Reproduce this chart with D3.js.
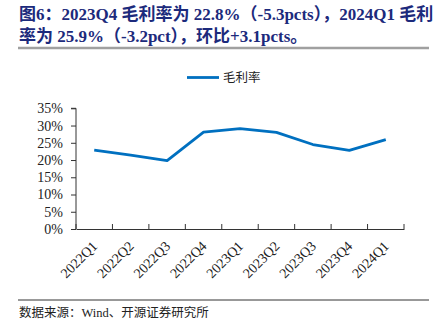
<!DOCTYPE html>
<html><head><meta charset="utf-8">
<script src="https://cdn.jsdelivr.net/npm/d3@7"></script>
<style>body{margin:0;background:#fff}svg{display:block}</style>
</head><body>
<svg id="c" width="444" height="330"></svg>
<script>
const categories = ["2022Q1","2022Q2","2022Q3","2022Q4","2023Q1","2023Q2","2023Q3","2023Q4","2024Q1"];
const grossMargin = [22.9, 21.4, 19.8, 28.1, 29.1, 28.0, 24.5, 22.8, 25.9];
const yTicks = [0,5,10,15,20,25,30,35];
const seriesName = "毛利率";
const titleLines = ["图6：2023Q4 毛利率为 22.8%（-5.3pcts），2024Q1 毛利", "率为 25.9%（-3.2pct），环比+3.1pcts。"];
const sourceText = "数据来源：Wind、开源证券研究所";

const svg = d3.select("#c");
const serif = "'Liberation Serif','Times New Roman','Noto Sans CJK SC',serif";
const cjk = "'Liberation Serif','Noto Sans CJK SC',sans-serif";

// title
svg.selectAll("text.title").data(titleLines).join("text")
  .attr("class","title")
  .attr("x",19).attr("y",(d,i)=>20+i*22)
  .attr("fill","#1c2a7c").attr("font-weight","bold")
  .attr("font-family",cjk).attr("font-size",17)
  .text(d=>d);
svg.append("line").attr("x1",18).attr("x2",429).attr("y1",48).attr("y2",48)
  .attr("stroke","#a0a0a0").attr("stroke-width",2.5);

const x = d3.scaleBand().domain(categories).range([76,404]);
const y = d3.scaleLinear().domain([0,35]).range([229,108.3]);

// y axis
const ya = svg.append("g").attr("transform","translate(76,0)")
  .call(d3.axisLeft(y).tickValues(yTicks).tickFormat(d=>d+"%").tickSize(5).tickPadding(8));
ya.select(".domain").attr("stroke","#333").attr("d","M-5,108.3H0V229");
ya.selectAll(".tick line").attr("stroke","#333");
ya.selectAll("text").attr("font-family",serif).attr("font-size",14).attr("fill","#222");

// x axis
const xa = svg.append("g").attr("transform","translate(0,229)")
  .call(d3.axisBottom(x).tickSize(0).tickSizeOuter(0));
xa.select(".domain").attr("stroke","#333");
xa.selectAll(".tick line").remove();
// ticks at band boundaries
const bounds = categories.map(c=>x(c)).concat([x.range()[1]]);
xa.selectAll("line.bt").data(bounds).join("line").attr("class","bt")
  .attr("x1",d=>d).attr("x2",d=>d).attr("y1",0).attr("y2",-5).attr("stroke","#333");
xa.selectAll(".tick text")
  .attr("font-family",serif).attr("font-size",14).attr("fill","#222")
  .attr("text-anchor","end").attr("dy",0)
  .attr("transform","translate(4,18) rotate(-45)")
  .attr("y",0).attr("x",0);

// line
svg.append("path").datum(grossMargin)
  .attr("fill","none").attr("stroke","#0070C0").attr("stroke-width",2.8)
  .attr("stroke-linejoin","round")
  .attr("d",d3.line().x((d,i)=>x(categories[i])+x.bandwidth()/2).y(d=>y(d)));

// legend
svg.append("line").attr("x1",187).attr("x2",219).attr("y1",77.5).attr("y2",77.5)
  .attr("stroke","#0070C0").attr("stroke-width",2.8);
svg.append("text").attr("x",223).attr("y",82).attr("font-family",cjk).attr("font-size",12.5)
  .attr("fill","#222").text(seriesName);

// bottom rule and source
svg.append("line").attr("x1",18).attr("x2",429).attr("y1",300).attr("y2",300)
  .attr("stroke","#333").attr("stroke-width",1);
svg.append("text").attr("x",19).attr("y",317).attr("font-family",cjk).attr("font-size",12.5)
  .attr("fill","#222").text(sourceText);
</script>
</body></html>
